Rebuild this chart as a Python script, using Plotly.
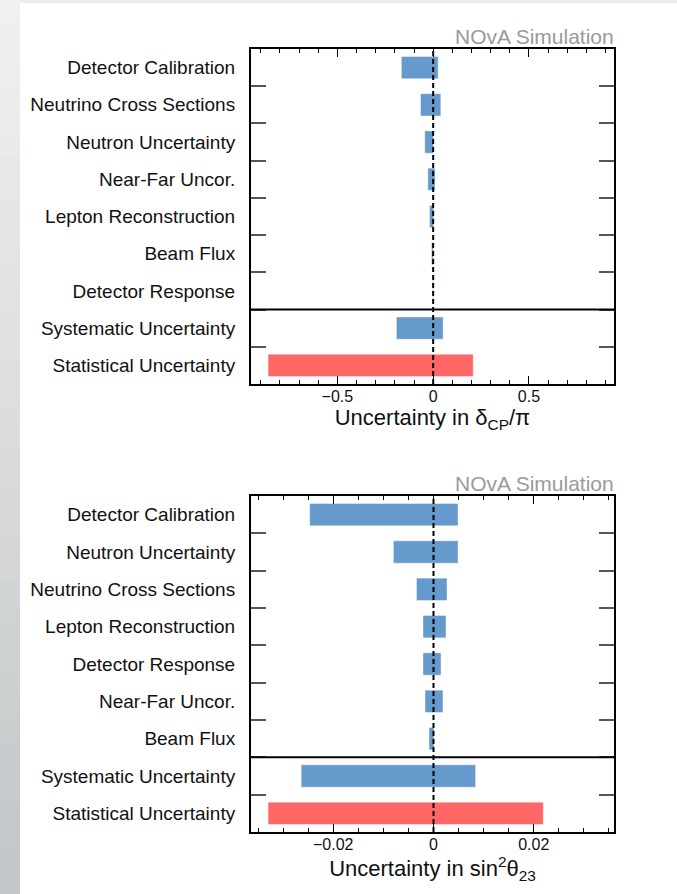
import plotly.graph_objects as go

# ---- data: uncertainty bands (low, high) for each source ----
dcp_labels = [
    "Detector Calibration",
    "Neutrino Cross Sections",
    "Neutron Uncertainty",
    "Near-Far Uncor.",
    "Lepton Reconstruction",
    "Beam Flux",
    "Detector Response",
    "Systematic Uncertainty",
    "Statistical Uncertainty",
]
dcp_low = [-0.166, -0.066, -0.044, -0.028, -0.019, -0.009, -0.003, -0.192, -0.862]
dcp_high = [0.026, 0.040, 0.002, 0.010, 0.003, 0.001, 0.001, 0.052, 0.209]

th_labels = [
    "Detector Calibration",
    "Neutron Uncertainty",
    "Neutrino Cross Sections",
    "Lepton Reconstruction",
    "Detector Response",
    "Near-Far Uncor.",
    "Beam Flux",
    "Systematic Uncertainty",
    "Statistical Uncertainty",
]
th_low = [-0.0247, -0.0080, -0.0034, -0.0021, -0.0021, -0.0017, -0.0009, -0.0264, -0.0330]
th_high = [0.0049, 0.0049, 0.0027, 0.0025, 0.0015, 0.0019, 0.0001, 0.0084, 0.0219]

dcp_ticks = [-0.5, 0, 0.5]
dcp_ticktext = ["\u22120.5", "0", "0.5"]
th_ticks = [-0.02, 0, 0.02]
th_ticktext = ["\u22120.02", "0", "0.02"]

BLUE = "#6699cc"
RED = "#ff6666"
FONT = "Liberation Sans, Arial, sans-serif"

W, H = 677, 894
ML, MR, MT, MB = 251, 63, 49, 62
plot_w = W - ML - MR
plot_h = H - MT - MB


def px_x(px):
    return (px - ML) / plot_w


def px_y(py):
    return 1 - (py - MT) / plot_h


def colors(labels):
    return [RED if l.startswith("Statistical") else BLUE for l in labels]


fig = go.Figure()

for labels, lo, hi, xa, ya in [
    (dcp_labels, dcp_low, dcp_high, "x", "y"),
    (th_labels, th_low, th_high, "x2", "y2"),
]:
    fig.add_trace(go.Bar(
        y=labels,
        x=[h - l for l, h in zip(lo, hi)],
        base=lo,
        orientation="h",
        width=0.6,
        marker=dict(color=colors(labels),
                    line=dict(color="rgba(255,255,255,0.45)", width=1)),
        xaxis=xa, yaxis=ya,
        showlegend=False,
        hoverinfo="skip",
    ))

top_dom = [px_y(384), 1.0]
bot_dom = [0.0, px_y(496)]

axis_common = dict(
    showline=True, linecolor="black", linewidth=2, mirror="ticks",
    showgrid=False, zeroline=False,
)

xaxis_common = dict(
    **axis_common,
    ticks="inside", ticklen=8, tickwidth=1, tickcolor="black",
    tickfont=dict(family=FONT, size=16, color="#111"),
    ticklabelstandoff=-3,
    title_font=dict(family=FONT, size=22, color="#111"),
    title_standoff=0,
)

yaxis_common = dict(
    **axis_common,
    type="category",
    tickson="boundaries",
    ticks="inside", ticklen=15, tickwidth=1.5, tickcolor="#555",
    tickfont=dict(family=FONT, size=19, color="#111"),
    ticklabelstandoff=10,
)

fig.update_layout(
    width=W, height=H,
    margin=dict(l=ML, r=MR, t=MT, b=MB),
    paper_bgcolor="white", plot_bgcolor="white",
    bargap=0.4,
    xaxis=dict(
        **xaxis_common, domain=[0, 1], anchor="y",
        range=[-0.951, 0.944],
        tickvals=dcp_ticks, ticktext=dcp_ticktext,
        minor=dict(dtick=0.1, tick0=0, ticks="inside", ticklen=4,
                   tickwidth=1, tickcolor="black", showgrid=False),
        title_text="Uncertainty in \u03b4<sub>CP</sub>/\u03c0",
    ),
    yaxis=dict(
        **yaxis_common, domain=top_dom, anchor="x",
        categoryorder="array", categoryarray=dcp_labels[::-1],
        range=[-0.5, len(dcp_labels) - 0.5],
    ),
    xaxis2=dict(
        **xaxis_common, domain=[0, 1], anchor="y2",
        range=[-0.0364, 0.036],
        tickvals=th_ticks, ticktext=th_ticktext,
        minor=dict(dtick=0.005, tick0=0, ticks="inside", ticklen=4,
                   tickwidth=1, tickcolor="black", showgrid=False),
        title_text="Uncertainty in sin<sup>2</sup>\u03b8<sub>23</sub>",
    ),
    yaxis2=dict(
        **yaxis_common, domain=bot_dom, anchor="x2",
        categoryorder="array", categoryarray=th_labels[::-1],
        range=[-0.5, len(th_labels) - 0.5],
    ),
)

shapes = []

# page decoration: grey gradient strip at the left, thin grey band at top
n = 40
c0 = (240, 240, 240)
c1 = (194, 198, 200)
for i in range(n):
    t = i / (n - 1)
    c = tuple(int(round(a + (b - a) * t)) for a, b in zip(c0, c1))
    shapes.append(dict(
        type="rect", xref="paper", yref="paper",
        x0=px_x(0), x1=px_x(20),
        y0=px_y(H * (i + 1) / n + 1), y1=px_y(H * i / n),
        fillcolor="rgb(%d,%d,%d)" % c, line=dict(width=0), layer="below",
    ))
shapes.append(dict(
    type="rect", xref="paper", yref="paper",
    x0=px_x(20), x1=px_x(W), y0=px_y(3), y1=px_y(0),
    fillcolor="#ececec", line=dict(width=0), layer="below",
))

for xa, ya in [("x", "y"), ("x2", "y2")]:
    # separator between individual sources and the totals
    shapes.append(dict(
        type="line", xref=f"{xa} domain", yref=ya,
        x0=0, x1=1, y0=1.5, y1=1.5,
        line=dict(color="black", width=2),
    ))
    # dashed line at zero
    shapes.append(dict(
        type="line", xref=xa, yref=f"{ya} domain",
        x0=0, x1=0, y0=0, y1=1,
        line=dict(color="black", width=2, dash="5px,3px"),
    ))

fig.update_layout(shapes=shapes)

for xa, ya in [("x", "y"), ("x2", "y2")]:
    fig.add_annotation(
        text="NOvA Simulation", showarrow=False,
        xref=f"{xa} domain", yref=f"{ya} domain",
        x=1.0, y=1.0, xanchor="right", yanchor="bottom",
        font=dict(family=FONT, size=21, color="#9a9a9a"),
        xshift=2, yshift=-1,
    )

fig.write_html("out.html")
